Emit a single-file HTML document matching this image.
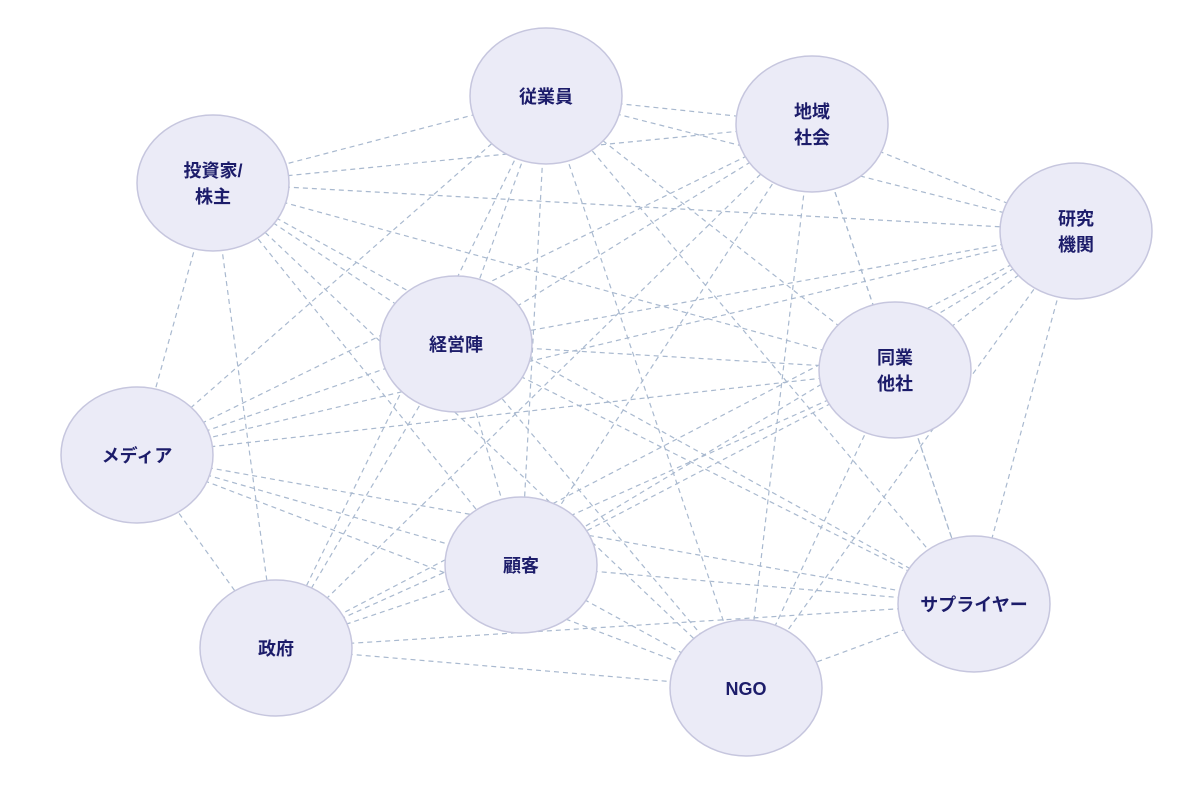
<!DOCTYPE html>
<html><head><meta charset="utf-8"><style>
body{margin:0;background:#fff;width:1200px;height:800px;overflow:hidden}
text{font-family:"Liberation Sans","Noto Sans CJK JP",sans-serif;font-weight:bold;font-size:18px;fill:#1c1c6a;text-anchor:middle}
</style></head><body>
<svg width="1200" height="800" xmlns="http://www.w3.org/2000/svg">
<g id="lines" stroke="#a9b9cf" stroke-width="1.2" stroke-dasharray="5,4" fill="none"></g>
<g id="nodes"></g>
</svg>
<script>
var N=[[546,96,["従業員"]],[812,124,["地域","社会"]],[213,183,["投資家/","株主"]],[1076,231,["研究","機関"]],[456,344,["経営陣"]],[895,370,["同業","他社"]],[137,455,["メディア"]],[521,565,["顧客"]],[974,604,["サプライヤー"]],[276,648,["政府"]],[746,688,["NGO"]]];
var ns="http://www.w3.org/2000/svg",L=document.getElementById("lines"),G=document.getElementById("nodes");
for(var i=0;i<N.length;i++)for(var j=i+1;j<N.length;j++){var l=document.createElementNS(ns,"line");l.setAttribute("x1",N[i][0]);l.setAttribute("y1",N[i][1]);l.setAttribute("x2",N[j][0]);l.setAttribute("y2",N[j][1]);L.appendChild(l);}
N.forEach(function(n){var e=document.createElementNS(ns,"ellipse");e.setAttribute("cx",n[0]);e.setAttribute("cy",n[1]);e.setAttribute("rx",76);e.setAttribute("ry",68);e.setAttribute("fill","#ebebf7");e.setAttribute("stroke","#c6c6de");e.setAttribute("stroke-width","1.5");G.appendChild(e);
var k=n[2].length;n[2].forEach(function(s,m){var t=document.createElementNS(ns,"text");t.setAttribute("x",n[0]);t.setAttribute("y",n[1]+7+(m-(k-1)/2)*26);t.textContent=s;G.appendChild(t);});});
</script>
</body></html>
